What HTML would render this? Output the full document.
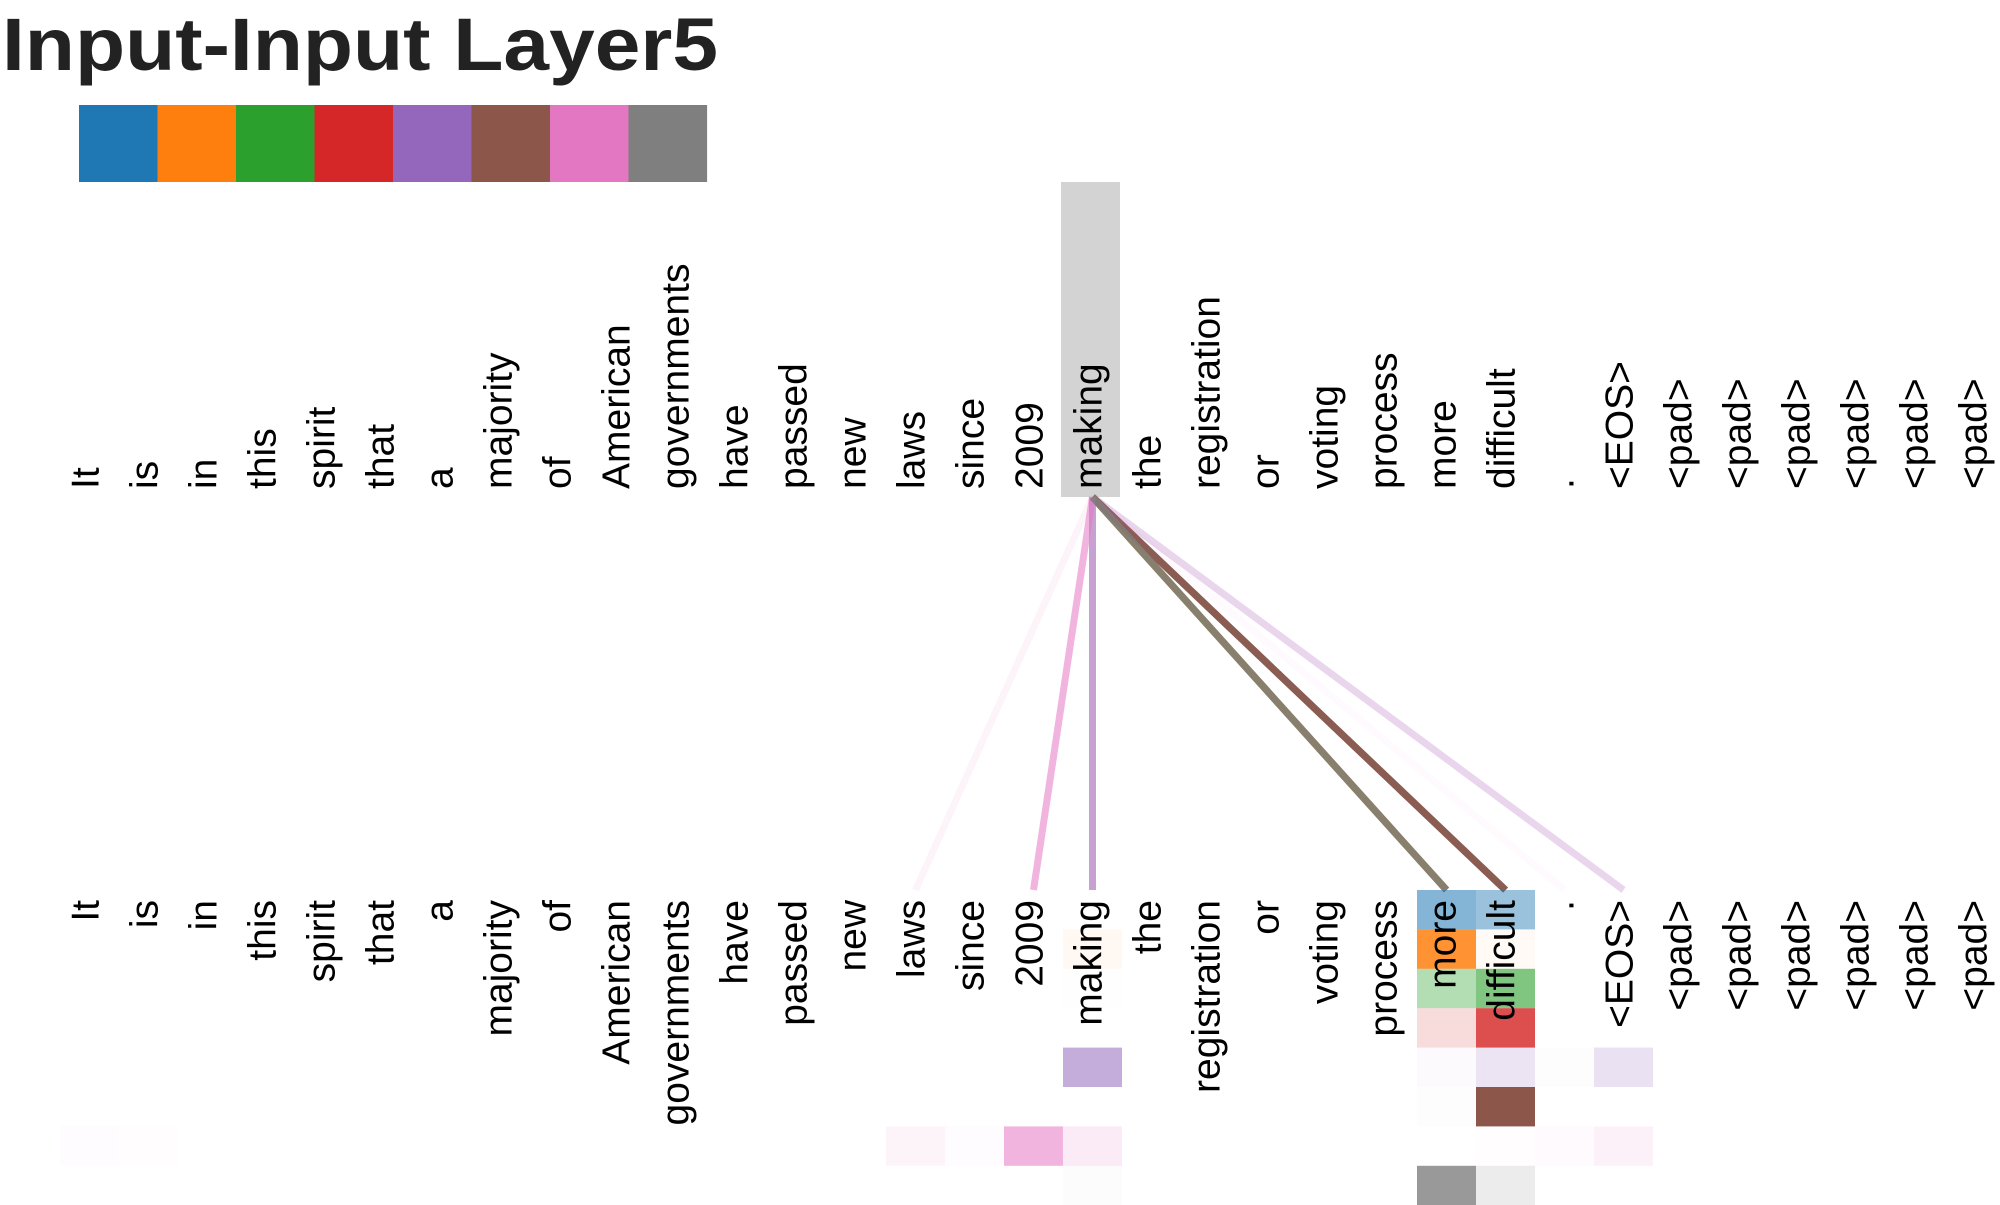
<!DOCTYPE html>
<html><head><meta charset="utf-8"><style>
html,body{margin:0;padding:0;background:#fff;}
svg{display:block;}
text{font-family:"Liberation Sans",Arial,sans-serif;}
</style></head><body>
<svg id="chart" width="2000" height="1205" viewBox="0 0 2000 1205" xmlns="http://www.w3.org/2000/svg">
<text x="2" y="70" font-size="74" font-weight="bold" fill="#222" textLength="716" lengthAdjust="spacingAndGlyphs">Input-Input Layer5</text>
<g id="legend"></g>
<rect x="1061" y="182" width="59" height="315" fill="#d3d3d3"></rect>
<g id="lines"></g>
<g id="cells"></g>
<g id="toplabels"></g>
<g id="botlabels"></g>
</svg>
<script>
const tokens = ["It","is","in","this","spirit","that","a","majority","of","American","governments","have","passed","new","laws","since","2009","making","the","registration","or","voting","process","more","difficult",".","<EOS>","<pad>","<pad>","<pad>","<pad>","<pad>","<pad>"];
const headColors = ["#1f77b4","#ff7f0e","#2ca02c","#d62728","#9467bd","#8c564b","#e377c2","#7f7f7f"];
const selectedIndex = 17;
// attention weights of selected token per head: [column index, value]
const head0 = [[23,0.55],[24,0.45]];
const head1 = [[17,0.05],[23,0.85],[24,0.04]];
const head2 = [[17,0.01],[23,0.36],[24,0.6]];
const head3 = [[23,0.16],[24,0.82]];
const head4 = [[17,0.55],[23,0.03],[24,0.18],[25,0.01],[26,0.2]];
const head5 = [[23,0.01],[24,1.0]];
const head6 = [[0,0.02],[1,0.01],[14,0.08],[15,0.02],[16,0.55],[17,0.15],[24,0.01],[25,0.04],[26,0.1]];
const head7 = [[17,0.02],[23,0.8],[24,0.15]];
const heads = [head0,head1,head2,head3,head4,head5,head6,head7];
const lineThreshold = 0.04;

const NS="http://www.w3.org/2000/svg";
const X0=60, CW=59, TOPY=497, BOTY=890, RH=39.4;
function colX(i){return X0+i*CW;}
function colC(i){return X0+(i+0.5)*CW;}
function mk(tag,attrs,parent){const e=document.createElementNS(NS,tag);for(const k in attrs)e.setAttribute(k,attrs[k]);parent.appendChild(e);return e;}

const legend=document.getElementById('legend');
headColors.forEach((c,h)=>{
  const r=mk('rect',{x:79+h*78.5,y:105,width:78.6,height:77,fill:c},legend);
  
  
});

const lines=document.getElementById('lines');
heads.forEach((hd,h)=>{
  hd.forEach(([j,v])=>{
    if(v<lineThreshold) return;
    const l=mk('line',{x1:colC(selectedIndex),y1:TOPY,x2:colC(j),y2:BOTY,stroke:headColors[h],'stroke-opacity':v,'stroke-width':7},lines);
    
    
  });
});

const cells=document.getElementById('cells');
heads.forEach((hd,h)=>{
  hd.forEach(([j,v])=>{
    const r=mk('rect',{x:colX(j),y:BOTY+h*RH,width:CW,height:RH,fill:headColors[h],'fill-opacity':v},cells);
    
    
  });
});

const tl=document.getElementById('toplabels'), bl=document.getElementById('botlabels');
tokens.forEach((t,i)=>{
  const bx=colC(i)+9;
  const a=mk('text',{x:0,y:0,'font-size':39,fill:'#000','text-anchor':'start',transform:`translate(${bx},${TOPY-8}) rotate(-90)`},tl);
  a.textContent=t;
  
  
  const b=mk('text',{x:0,y:0,'font-size':39,fill:'#000','text-anchor':'end',transform:`translate(${bx},${BOTY+10}) rotate(-90)`},bl);
  b.textContent=t;
  
  
});
</script>
</body></html>
